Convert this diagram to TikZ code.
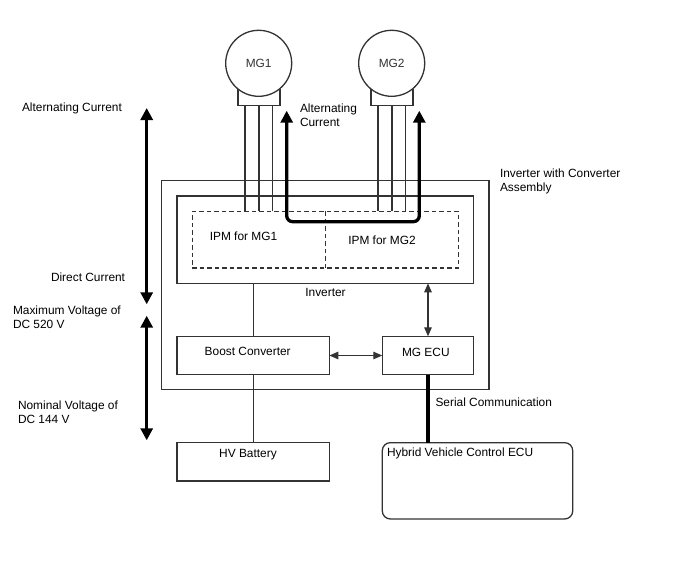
\documentclass[tikz,border=0pt]{standalone}
\usepackage{fontspec}
\setmainfont{Liberation Sans}
\usetikzlibrary{positioning, arrows.meta, calc}

\tikzset{
    every node/.style={font=\fontsize{11.9}{14}\selectfont, inner sep=0pt, outer sep=0pt},
    wire/.style={draw, line width=1.3pt, color=black!80},
    blockbox/.style={wire, rectangle},
    motor/.style={wire, circle, fill=white, minimum size=66pt},
    terminal/.style={blockbox, minimum width=42pt, minimum height=16pt},
    thinarrow/.style={wire, {Triangle[length=9pt,width=7.5pt]}-{Triangle[length=9pt,width=7.5pt]}},
    powerarrow/.style={draw, line width=3.3pt, {Triangle[length=12pt,width=12pt]}-{Triangle[length=12pt,width=12pt]}},
    caption/.style={align=left, anchor=west}
}

\begin{document}
\begin{tikzpicture}[x=1pt, y=-1pt, node distance=133pt]
    \useasboundingbox (0,0) rectangle (688,560);

    % motors with their terminal blocks
    \node[terminal] (term1) at (259,97.5) {};
    \node[terminal] (term2) [right of=term1] {};
    \node[motor] (mg1) at (258.7,63.3) {MG1};
    \node[motor] (mg2) [right of=mg1] {MG2};

    % assembly and its blocks
    \node[blockbox, minimum width=327.3pt, minimum height=208.6pt] (assy) at (325.3,285) {};
    \node[blockbox, minimum width=296.7pt, minimum height=87.3pt] (inv) at (325.3,239.7) {};
    \node[blockbox, dash pattern=on 4.5pt off 3pt, minimum width=266pt, minimum height=56.7pt] (ipm) at (325.3,239.7) {};
    \node[blockbox, minimum width=152.3pt, minimum height=38.4pt] (boost) at (253.2,355.5) {};
    \node[blockbox, minimum width=91.4pt, minimum height=38.4pt] (ecu) at (428,355.5) {};
    \node[blockbox, minimum width=152.3pt, minimum height=38.4pt] (batt) at (253.2,461.8) {};
    \node[blockbox, rounded corners=8pt, minimum width=190.4pt, minimum height=76.3pt] (hvecu) at (477.5,480.8) {};

    % free ends of the heavy arrows
    \coordinate (ac1) at (286.7,110.7);
    \coordinate (ac2) at (419.3,110.7);
    \coordinate (acb) at (353,221.7);
    \coordinate (ltop) at (146.7,108);
    \coordinate (lmid) at (146.7,304.3);
    \coordinate (hvtop) at (146.7,315.7);
    \coordinate (hvbot) at (146.7,440.3);

    % three phase lines
    \foreach \m in {term1,term2}
        \foreach \dx in {-14,0,13.3}
            \draw[wire] ([xshift=\dx pt]\m.south) -- ([xshift=\dx pt]\m.south |- ipm.north);

    \draw[wire, dash pattern=on 4.5pt off 3pt] (ipm.north) -- (ipm.south);
    \draw[wire] (inv.south -| boost.north) -- (boost.north);
    \draw[wire] (boost.south) -- (batt.north);
    \draw[thinarrow] (inv.south -| ecu.north) -- (ecu.north);
    \draw[thinarrow] (boost.east) -- (ecu.west);

    \draw[draw, line width=3.3pt] (ecu.south) -- (ecu.south |- hvecu.north);
    \draw[powerarrow, rounded corners=6pt] (ac1) |- (acb) -| (ac2);
    \draw[powerarrow] (ltop) -- (lmid);
    \draw[powerarrow] (hvtop) -- (hvbot);

    % labels
    \node (ipm1txt) at (243.5,236.7) {IPM for MG1};
    \node (ipm2txt) at (382,240) {IPM for MG2};
    \node (invtxt) at (325.5,292) {Inverter};
    \node (boosttxt) at (247.7,351.7) {Boost Converter};
    \node (ecutxt) at (425.8,352.7) {MG ECU};
    \node (batttxt) at (248,454.7) {HV Battery};
    \node[caption] (hvtxt) at (387,453.7) {Hybrid Vehicle Control ECU};
    \node[caption] (serialtxt) at (435.5,402.7) {Serial Communication};
    \node[caption] (actxt) at (300,115) {Alternating\\Current};
    \node[caption] (assytxt) at (500,181) {Inverter with Converter\\Assembly};
    \node[caption] (lactxt) at (22,108) {Alternating Current};
    \node[caption] (dctxt) at (51,277) {Direct Current};
    \node[caption] (maxtxt) at (13,317) {Maximum Voltage of\\DC 520 V};
    \node[caption] (nomtxt) at (18,412) {Nominal Voltage of\\DC 144 V};
\end{tikzpicture}
\end{document}
